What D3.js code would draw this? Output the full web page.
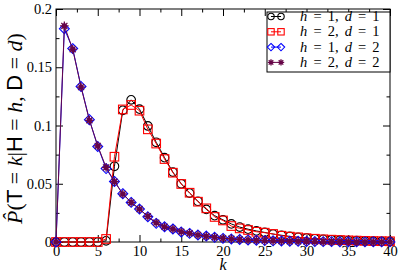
<!DOCTYPE html>
<html>
<head>
<meta charset="utf-8">
<script src="https://cdn.jsdelivr.net/npm/d3@7"></script>
<style>
  body { margin: 0; background: #fff; }
  svg { display: block; }
</style>
</head>
<body>
<div id="chart"></div>
<script>
// k values on the x axis
var kValues = [0,1,2,3,4,5,6,7,8,9,10,11,12,13,14,15,16,17,18,19,20,
               21,22,23,24,25,26,27,28,29,30,31,32,33,34,35,36,37,38,39,40];

// estimated P(T=k | H=h, D=d) for each series
var pH1D1 = [0,0,0,0,0,0,0.001,0.065,0.113,0.122,0.114,0.0996,0.0856,0.0724,0.060,0.050,
             0.042,0.035,0.028,0.0226,0.019,0.0155,0.0128,0.011,0.0095,0.0082,0.0068,0.0058,
             0.0048,0.004,0.0034,0.0028,0.0023,0.0019,0.0016,0.0013,0.0011,0.0009,0.0007,0.0006,0.0005];
var pH2D1 = [0,0,0,0,0,0,0.0026,0.0732,0.1138,0.1176,0.1127,0.0967,0.0845,0.0712,0.0595,0.0498,
             0.0423,0.0346,0.0289,0.0215,0.0185,0.0137,0.0117,0.0103,0.0088,0.008,0.0069,0.0054,
             0.0046,0.004,0.0033,0.0028,0.0023,0.002,0.0017,0.0014,0.0012,0.001,0.0008,0.0007,0.0006];
var pH1D2 = [0,0.183,0.166,0.1335,0.105,0.082,0.063,0.052,0.0415,0.034,0.0283,0.0217,0.016,0.0131,
             0.0112,0.0086,0.0074,0.006,0.0051,0.004,0.0031,0.0026,0.0022,0.0018,0.0015,0.0012,
             0.001,0.0009,0.0007,0.0006,0.0005,0.0004,0.0003,0.0003,0.0002,0.0002,0.0001,0.0001,
             0.0001,0.0001,0.0001];
var pH2D2 = [0,0.1855,0.1655,0.133,0.1045,0.0825,0.064,0.0518,0.0412,0.034,0.0283,0.022,0.0165,
             0.013,0.0112,0.0088,0.0075,0.006,0.005,0.0041,0.0032,0.0027,0.0022,0.0018,0.0015,
             0.0012,0.001,0.0009,0.0007,0.0006,0.0005,0.0004,0.0003,0.0003,0.0002,0.0002,0.0001,
             0.0001,0.0001,0.0001,0.0001];

// axis ticks
var xTicks = [0,5,10,15,20,25,30,35,40];
var xMinorTicks = [2.5,7.5,12.5,17.5,22.5,27.5,32.5,37.5];
var yTicks = [0,0.05,0.1,0.15,0.2];
var yTickLabels = ["0","0.05","0.1","0.15","0.2"];
var yMinorTicks = [0.025,0.075,0.125,0.175];

// legend text: [h, d]
var legendLabels = [["1","1"],["2","1"],["1","2"],["2","2"]];

var svgWidth = 399, svgHeight = 274;
var plotLeft = 56, plotRight = 390, plotTop = 9, plotBottom = 242;
var serif = "'Liberation Serif', 'Times New Roman', serif";
var sans = "'Liberation Sans', Arial, sans-serif";

var svg = d3.select("#chart").append("svg")
            .attr("width", svgWidth)
            .attr("height", svgHeight);

var x = d3.scaleLinear().domain([0, 40]).range([plotLeft, plotRight]);
var y = d3.scaleLinear().domain([0, 0.2]).range([plotBottom, plotTop]);

// axes (ticks point inward)
function styleAxis(g) {
  g.select(".domain").remove();
  g.selectAll("line").attr("stroke", "#000").attr("stroke-width", 1);
  g.selectAll("text").attr("font-family", serif).attr("font-size", "14.5px").attr("fill", "#000");
}

svg.append("g").attr("transform", "translate(0," + plotBottom + ")")
   .call(d3.axisBottom(x).tickValues(xTicks).tickSize(-7).tickPadding(4).tickFormat(d3.format("d")))
   .call(styleAxis);
svg.append("g").attr("transform", "translate(0," + plotBottom + ")")
   .call(d3.axisBottom(x).tickValues(xMinorTicks).tickSize(-3.5).tickFormat(""))
   .call(styleAxis);
svg.append("g").attr("transform", "translate(0," + plotTop + ")")
   .call(d3.axisTop(x).tickValues(xTicks).tickSize(-7).tickFormat(""))
   .call(styleAxis);
svg.append("g").attr("transform", "translate(0," + plotTop + ")")
   .call(d3.axisTop(x).tickValues(xMinorTicks).tickSize(-3.5).tickFormat(""))
   .call(styleAxis);

svg.append("g").attr("transform", "translate(" + plotLeft + ",0)")
   .call(d3.axisLeft(y).tickValues(yTicks).tickSize(-7).tickPadding(4)
           .tickFormat(function(d, i) { return yTickLabels[i]; }))
   .call(styleAxis);
svg.append("g").attr("transform", "translate(" + plotLeft + ",0)")
   .call(d3.axisLeft(y).tickValues(yMinorTicks).tickSize(-3.5).tickFormat(""))
   .call(styleAxis);
svg.append("g").attr("transform", "translate(" + plotRight + ",0)")
   .call(d3.axisRight(y).tickValues(yTicks).tickSize(-7).tickFormat(""))
   .call(styleAxis);
svg.append("g").attr("transform", "translate(" + plotRight + ",0)")
   .call(d3.axisRight(y).tickValues(yMinorTicks).tickSize(-3.5).tickFormat(""))
   .call(styleAxis);

// frame
svg.append("rect")
   .attr("x", plotLeft).attr("y", plotTop)
   .attr("width", plotRight - plotLeft).attr("height", plotBottom - plotTop)
   .attr("fill", "none").attr("stroke", "#000").attr("stroke-width", 1);

// marker drawing
function drawMarker(g, kind, color, r) {
  if (kind === "circle") {
    g.append("circle").attr("r", r).attr("fill", "none").attr("stroke", color).attr("stroke-width", 1.1);
  } else if (kind === "square") {
    g.append("rect").attr("x", -r).attr("y", -r).attr("width", 2 * r).attr("height", 2 * r)
     .attr("fill", "none").attr("stroke", color).attr("stroke-width", 1.1);
  } else if (kind === "diamond") {
    var s = r * 1.15;
    g.append("path").attr("d", "M0," + (-s) + "L" + s + ",0L0," + s + "L" + (-s) + ",0Z")
     .attr("fill", "none").attr("stroke", color).attr("stroke-width", 1.1);
  } else {
    g.append("circle").attr("r", r * 0.6).attr("fill", color);
    for (var a = 0; a < 4; a++) {
      var ang = a * Math.PI / 4;
      g.append("line")
       .attr("x1", -r * Math.cos(ang)).attr("y1", -r * Math.sin(ang))
       .attr("x2", r * Math.cos(ang)).attr("y2", r * Math.sin(ang))
       .attr("stroke", color).attr("stroke-width", 1.3);
    }
  }
}

var seriesList = [
  { values: pH1D1, color: "#000000", kind: "circle" },
  { values: pH2D1, color: "#ff0000", kind: "square" },
  { values: pH1D2, color: "#0000ff", kind: "diamond" },
  { values: pH2D2, color: "#670748", kind: "star" }
];

var line = d3.line()
             .x(function(d) { return x(d.k); })
             .y(function(d) { return y(d.p); });

seriesList.forEach(function(s) {
  var pts = kValues.map(function(k, i) { return { k: k, p: s.values[i] }; });
  svg.append("path")
     .datum(pts)
     .attr("d", line)
     .attr("fill", "none")
     .attr("stroke", s.color)
     .attr("stroke-width", 1);
  svg.append("g").selectAll("g")
     .data(pts)
     .enter()
     .append("g")
     .attr("transform", function(d) { return "translate(" + x(d.k) + "," + y(d.p) + ")"; })
     .each(function() { drawMarker(d3.select(this), s.kind, s.color, 4.3); });
});

// legend
var legend = svg.append("g");
legend.append("rect")
      .attr("x", 267).attr("y", 12).attr("width", 123).attr("height", 60)
      .attr("fill", "#fff").attr("stroke", "#000").attr("stroke-width", 1);

seriesList.forEach(function(s, i) {
  var rowY = 16.5 + i * 15.3;
  legend.append("line")
        .attr("x1", 271).attr("x2", 281).attr("y1", rowY).attr("y2", rowY)
        .attr("stroke", s.color).attr("stroke-width", 1);
  [271, 281].forEach(function(mx) {
    var g = legend.append("g").attr("transform", "translate(" + mx + "," + rowY + ")");
    drawMarker(g, s.kind, s.color, 3.2);
  });
  var t = legend.append("text")
                .attr("x", 300).attr("y", rowY + 4.5)
                .attr("font-family", serif).attr("font-size", "14.5px")
                .attr("word-spacing", "2.5px")
                .attr("xml:space", "preserve");
  t.append("tspan").attr("font-style", "italic").text("h");
  t.append("tspan").text(" = " + legendLabels[i][0] + ", ");
  t.append("tspan").attr("font-style", "italic").text("d");
  t.append("tspan").text(" = " + legendLabels[i][1]);
});

// x axis title
svg.append("text")
   .attr("x", (plotLeft + plotRight) / 2).attr("y", 270)
   .attr("text-anchor", "middle")
   .attr("font-family", serif).attr("font-size", "16px").attr("font-style", "italic")
   .text("k");

// y axis title
var yTitle = svg.append("text")
   .attr("transform", "translate(22," + ((plotTop + plotBottom) / 2 + 3) + ") rotate(-90)")
   .attr("text-anchor", "middle")
   .attr("font-family", serif).attr("font-size", "22px")
   .attr("xml:space", "preserve");
yTitle.append("tspan").attr("font-style", "italic").text("P\u0302");
yTitle.append("tspan").text("(");
yTitle.append("tspan").attr("font-family", sans).text("T");
yTitle.append("tspan").text(" = ");
yTitle.append("tspan").attr("font-style", "italic").text("k");
yTitle.append("tspan").text("|");
yTitle.append("tspan").attr("font-family", sans).text("H");
yTitle.append("tspan").text(" = ");
yTitle.append("tspan").attr("font-style", "italic").text("h");
yTitle.append("tspan").text(", ");
yTitle.append("tspan").attr("font-family", sans).text("D");
yTitle.append("tspan").text(" = ");
yTitle.append("tspan").attr("font-style", "italic").text("d");
yTitle.append("tspan").text(")");
</script>
</body>
</html>
